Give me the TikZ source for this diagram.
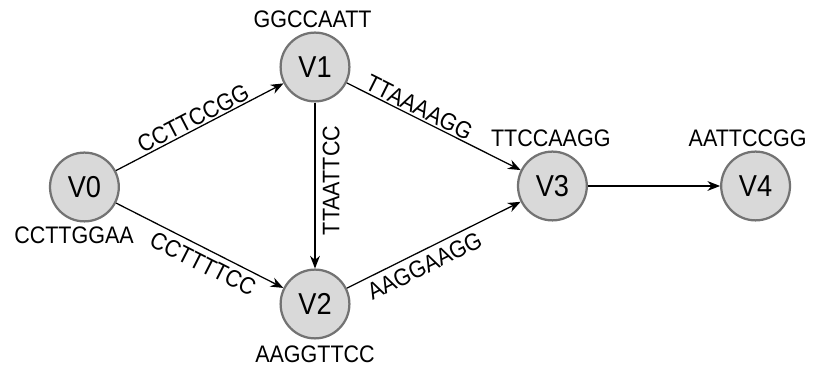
\documentclass[tikz,border=0pt]{standalone}
\usepackage{fontspec}
\setmainfont{Liberation Sans}[FakeStretch=0.9]
\usetikzlibrary{arrows.meta}

\tikzset{
	vertex/.style={circle, draw=black!55, line width=1.6pt, fill=black!15,
		minimum size=1.72cm, inner sep=0pt, font=\fontsize{21.5}{25}\selectfont},
	seq/.style={font=\fontsize{17}{20}\selectfont, inner sep=1pt},
	edge/.style={-{Stealth[length=9pt, width=7pt]}, line width=0.9pt},
}

\begin{document}
\begin{tikzpicture}
		\useasboundingbox (0, 0) rectangle (20.575, 9.275);

		\node [vertex, label={[seq, label distance=1.5pt, xshift=-0.26cm]below:CCTTGGAA}] (v0) at (2.11, 4.6) {V0};
		\node [vertex, label={[seq, label distance=1.5pt, xshift=-0.06cm]above:GGCCAATT}] (v1) at (7.875, 7.6) {V1};
		\node [vertex, label={[seq, label distance=3.5pt]below:AAGGTTCC}] (v2) at (7.875, 1.675) {V2};
		\node [vertex, label={[seq, label distance=1.5pt, xshift=-0.04cm]above:TTCCAAGG}] (v3) at (13.81, 4.625) {V3};
		\node [vertex, label={[seq, label distance=1.5pt, xshift=-0.2cm]above:AATTCCGG}] (v4) at (18.89, 4.625) {V4};

		\draw [edge] (v0) -- node [seq, sloped, above, pos=0.49] {CCTTCCGG} (v1);
		\draw [edge] (v0) -- node [seq, sloped, below=3pt, pos=0.56] {CCTTTTCC} (v2);
		\draw [edge] (v1) -- node [seq, pos=0.47, anchor=north, rotate=90, inner ysep=5pt] {TTAATTCC} (v2);
		\draw [edge] (v1) -- node [seq, sloped, above, pos=0.39] {TTAAAAGG} (v3);
		\draw [edge] (v2) -- node [seq, sloped, below=3pt, pos=0.41] {AAGGAAGG} (v3);
		\draw [edge] (v3) -- (v4);
	\end{tikzpicture}
\end{document}
